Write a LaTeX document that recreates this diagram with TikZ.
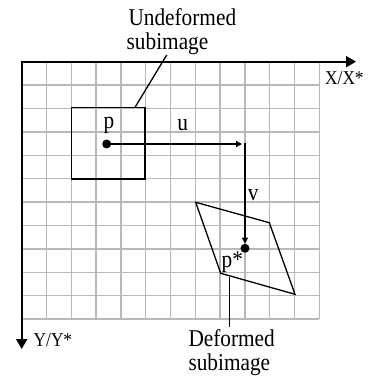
\documentclass[tikz,border=0pt]{standalone}
\usepackage{fontspec}
\setmainfont{Liberation Serif}
\usetikzlibrary{arrows.meta}
\newcommand{\stretchtxt}[1]{\scalebox{1}[1.13]{#1}}
\begin{document}
\begin{tikzpicture}[x=1pt,y=-1pt,
  gridline/.style={draw=black!28,line width=1.4pt},
  axisline/.style={line width=2.2pt,{Triangle[length=10pt,width=11pt]}-{Triangle[length=10pt,width=11pt]}},
  shapeline/.style={line width=1.3pt},
  vec/.style={line width=1.3pt,-{Triangle[length=6pt,width=6pt]}},
  dot/.style={circle,fill=black,inner sep=0pt,minimum size=9pt},
  bigtxt/.style={font=\fontsize{21.3}{23}\selectfont,inner sep=0pt,anchor=base west},
  axtxt/.style={font=\fontsize{17.3}{20}\selectfont,inner sep=0pt,anchor=base west},
  lbl/.style={font=\fontsize{21.3}{23}\selectfont,inner sep=0pt,anchor=base}]
\useasboundingbox (0,0) rectangle (368,379);
% grid
\foreach \i in {1,...,12} \draw[gridline] (21.7+\i*24.8,61.7) -- (21.7+\i*24.8,319);
\foreach \j in {1,...,11} \draw[gridline] (21.7,61.7+\j*23.39) -- (319.3,61.7+\j*23.39);
% axes
\coordinate (O) at (21.7,61.7);
\coordinate (xe) at (356,61.7);
\coordinate (ye) at (21.7,349);
\draw[axisline] (xe) -- (O) -- (ye);
\node[axtxt] (xlab) at (325,85) {\stretchtxt{X/X*}};
\node[axtxt] (ylab) at (33.5,346.7) {\stretchtxt{Y/Y*}};
% undeformed subimage
\node[draw,shapeline,inner sep=0pt,minimum width=73.3pt,minimum height=71.7pt] (usq) at (108.3,143.2) {};
\node[bigtxt] (ut1) at (128.3,26) {\stretchtxt{Undeformed}};
\node[bigtxt] (ut2) at (126.5,49.3) {\stretchtxt{subimage}};
\coordinate (ua) at (135,107.4);
\coordinate (ub) at (166.7,55);
\draw[shapeline] (ua) -- (ub);
% displacement
\node[dot] (p) at (106.7,144) {};
\node[lbl] (plab) at (109,128.3) {\stretchtxt{p}};
\coordinate (uend) at (242,144);
\draw[vec] (p.center) -- (uend);
\node[lbl] (ulab) at (182.7,130.7) {\stretchtxt{u}};
\coordinate (vs) at (245,143);
\node[dot] (ps) at (245,248.3) {};
\draw[vec] (vs) -- (ps.north);
\node[lbl] (vlab) at (253.3,200) {\stretchtxt{v}};
\node[bigtxt] (pslab) at (221.5,267) {\stretchtxt{p*}};
% deformed subimage
\coordinate (d1) at (195.7,202.3);
\coordinate (d2) at (269.3,222.7);
\coordinate (d3) at (295,294.3);
\coordinate (d4) at (220.7,273.3);
\draw[shapeline,line join=miter] (d1) -- (d2) -- (d3) -- (d4) -- cycle;
\coordinate (da) at (229.3,277);
\coordinate (db) at (229.3,326.7);
\draw[shapeline] (da) -- (db);
\node[bigtxt] (dt1) at (188.3,346.7) {\stretchtxt{Deformed}};
\node[bigtxt] (dt2) at (188.3,370) {\stretchtxt{subimage}};
\end{tikzpicture}
\end{document}
